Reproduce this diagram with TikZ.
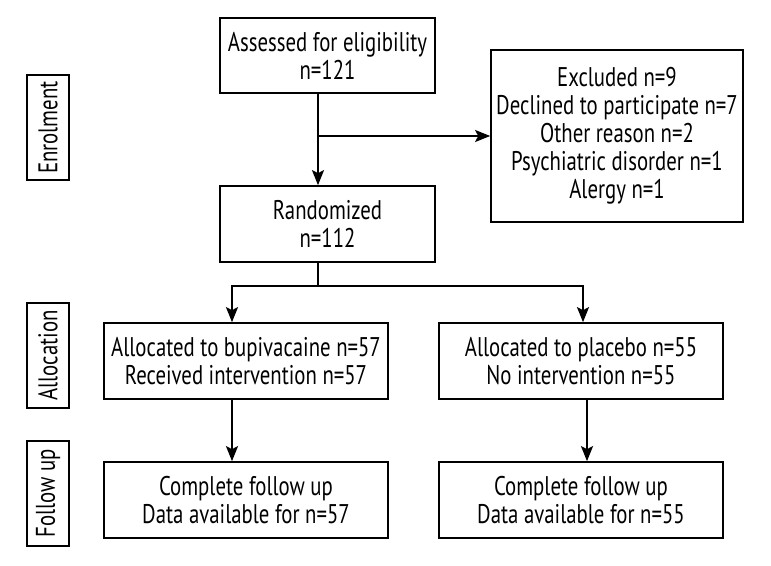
\documentclass[tikz,border=0pt]{standalone}
\usepackage{fontspec}
\setmainfont[FakeStretch=0.77]{PT Sans}
\usetikzlibrary{arrows.meta,calc}
\begin{document}
\begin{tikzpicture}[x=1pt,y=-1pt,
  box/.style={draw,line width=1.7pt,rectangle,inner sep=2pt,align=center,font=\fontsize{27}{28}\selectfont},
  lab/.style={draw,line width=1.7pt,rectangle,rotate=90,minimum width=105pt,minimum height=42pt,inner sep=0pt,font=\fontsize{27}{28}\selectfont},
  conn/.style={line width=1.7pt},
  arr/.style={conn,-{Stealth[length=15pt,width=12pt,inset=3pt]}}]
\useasboundingbox (0,0) rectangle (771,565);
\node[box,minimum width=215pt,minimum height=75pt] (assess) at (327.5,55.5) {Assessed for eligibility\\n=121};
\node[box,minimum width=215pt,minimum height=76pt] (rand) at (327.5,224) {Randomized\\n=112};
\node[box,minimum width=252pt,minimum height=172pt] (excl) at (617,136) {Excluded n=9\\Declined to participate n=7\\Other reason n=2\\Psychiatric disorder n=1\\Alergy n=1};
\node[box,minimum width=284pt,minimum height=76pt] (allocL) at (246,361) {Allocated to bupivacaine n=57\\Received intervention n=57};
\node[box,minimum width=284pt,minimum height=76pt] (allocR) at (581,361) {Allocated to placebo n=55\\No intervention n=55};
\node[box,minimum width=284pt,minimum height=76pt] (followL) at (246,500) {Complete follow up\\Data available for n=57};
\node[box,minimum width=284pt,minimum height=76pt] (followR) at (581,500) {Complete follow up\\Data available for n=55};
\node[lab] (enr) at (48,127.5) {Enrolment};
\node[lab] (alc) at (48,355.5) {Allocation};
\node[lab] (fup) at (48,493.5) {Follow up};
\coordinate (br) at (318,136);
\coordinate (sp) at (318,286);
\coordinate (spL) at (232,286);
\coordinate (spR) at (583,286);
\coordinate (colR2) at (587,0);
\draw[arr] (assess.south -| br) -- (rand.north -| br);
\draw[arr] (br) -- (excl.west |- br);
\draw[conn] (rand.south -| sp) -- (sp);
\draw[conn] ([xshift=-0.85pt]spL) -- ([xshift=0.85pt]spR);
\draw[arr] (spL) -- (allocL.north -| spL);
\draw[arr] (spR) -- (allocR.north -| spR);
\draw[arr] (allocL.south -| spL) -- (followL.north -| spL);
\draw[arr] (allocR.south -| colR2) -- (followR.north -| colR2);
\end{tikzpicture}
\end{document}
